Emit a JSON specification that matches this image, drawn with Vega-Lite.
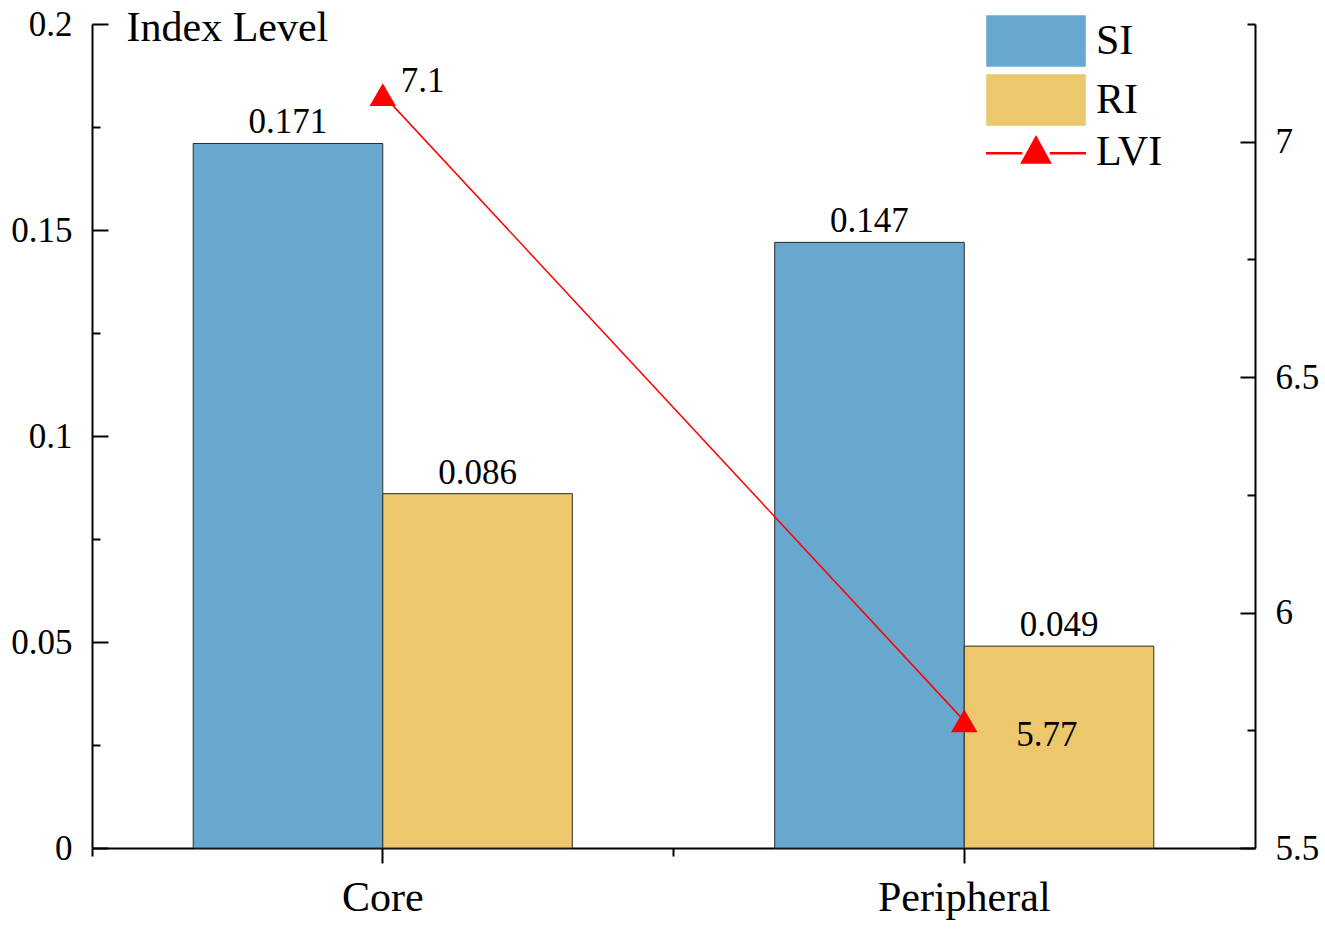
{
  "$schema": "https://vega.github.io/schema/vega-lite/v6.json",
  "width": 1163,
  "height": 824,
  "autosize": {"type": "none"},
  "padding": {"left": 92, "top": 24, "right": 70, "bottom": 81},
  "background": "white",
  "config": {
    "view": {"stroke": null},
    "font": "Liberation Serif",
    "axis": {
      "labelFont": "Liberation Serif",
      "labelColor": "black",
      "domainColor": "black",
      "tickColor": "black",
      "domainWidth": 2,
      "tickWidth": 2,
      "grid": false,
      "titleFont": "Liberation Serif",
      "titleColor": "black",
      "titleFontWeight": "normal"
    },
    "text": {"font": "Liberation Serif", "fontSize": 35, "color": "black"}
  },
  "datasets": {
    "index": [
      {"region": "Core", "series": "SI", "value": 0.171},
      {"region": "Core", "series": "RI", "value": 0.086},
      {"region": "Peripheral", "series": "SI", "value": 0.147},
      {"region": "Peripheral", "series": "RI", "value": 0.049}
    ],
    "lvi": [
      {"region": "Core", "series": "LVI", "value": 7.1},
      {"region": "Peripheral", "series": "LVI", "value": 5.77}
    ]
  },
  "layer": [
    {
      "data": {"name": "index"},
      "layer": [
        {
          "mark": {"type": "bar", "stroke": "#2a2a2a", "strokeWidth": 1, "opacity": 1},
          "encoding": {
            "x": {
              "field": "region",
              "type": "nominal",
              "sort": null,
              "scale": {"domain": ["Core", "Peripheral"], "paddingInner": 0, "paddingOuter": 0},
              "axis": {
                "orient": "bottom",
                "bandPosition": 0.5,
                "tickSize": 15,
                "labelPadding": 14,
                "labelFontSize": 42,
                "labelAngle": 0,
                "title": null
              }
            },
            "xOffset": {
              "field": "series",
              "type": "nominal",
              "sort": ["SI", "RI"],
              "scale": {"paddingInner": 0, "paddingOuter": 0.534}
            },
            "y": {
              "field": "value",
              "type": "quantitative",
              "scale": {"domain": [0, 0.2], "nice": false},
              "axis": {
                "orient": "left",
                "values": [0, 0.025, 0.05, 0.075, 0.1, 0.125, 0.15, 0.175, 0.2],
                "format": "~g",
                "labelExpr": "round(datum.value*1000) % 50 === 0 ? datum.label : ''",
                "tickSize": {"condition": {"test": "round(datum.value*1000) % 50 === 0", "value": -16}, "value": -8},
                "labelPadding": 36,
                "labelFontSize": 35,
                "title": "Index Level",
                "titleFontSize": 42,
                "titleAngle": 0,
                "titleAlign": "left",
                "titleBaseline": "middle",
                "titleX": 34,
                "titleY": 3
              }
            },
            "color": {
              "field": "series",
              "type": "nominal",
              "scale": {"domain": ["SI", "RI", "LVI"], "range": ["#68A8CE", "#ECC76C", "#FF0000"]},
              "legend": {
                "title": null,
                "orient": "none",
                "legendX": 923,
                "legendY": -4,
                "padding": 0,
                "symbolType": "M-1.96,-1H1.96V1H-1.96Z",
                "symbolSize": 2500,
                "symbolStrokeWidth": 1.5,
                "symbolStrokeColor": "#2a2a2a",
                "symbolOpacity": 1,
                "labelFont": "Liberation Serif",
                "labelFontSize": 42,
                "labelColor": "black",
                "labelOffset": 39,
                "rowPadding": 3,
                "encode": {
                  "symbols": {
                    "update": {
                      "shape": {"signal": "datum.value === 'LVI' ? 'M-2,0.05H-0.55M0.55,0.05H2M-0.55,0.42L0,-0.58L0.55,0.42Z' : 'M-1.96,-1H1.96V1H-1.96Z'"},
                      "fill": {"scale": "color", "field": "value"},
                      "stroke": {"signal": "datum.value === 'LVI' ? '#ff0000' : '#2a2a2a'"},
                      "strokeWidth": {"signal": "datum.value === 'LVI' ? 2.5 : 1.5"},
                      "opacity": {"value": 1}
                    }
                  }
                }
              }
            }
          }
        },
        {
          "mark": {"type": "text", "baseline": "alphabetic", "dy": -10, "fontSize": 35},
          "encoding": {
            "x": {"field": "region", "type": "nominal", "sort": null},
            "xOffset": {"field": "series", "type": "nominal", "sort": ["SI", "RI"]},
            "y": {"field": "value", "type": "quantitative"},
            "text": {"field": "value", "type": "quantitative", "format": ".3f"}
          }
        }
      ]
    },
    {
      "data": {"name": "lvi"},
      "layer": [
        {
          "mark": {"type": "line", "strokeWidth": 1.5},
          "encoding": {
            "x": {
              "field": "region",
              "type": "nominal",
              "sort": null,
              "axis": {
                "orient": "bottom",
                "bandPosition": 0,
                "tickSize": 8,
                "labels": false,
                "domain": false,
                "title": null
              }
            },
            "y": {
              "field": "value",
              "type": "quantitative",
              "scale": {"domain": [5.5, 7.25], "nice": false, "zero": false},
              "axis": {
                "orient": "right",
                "values": [5.5, 5.75, 6, 6.25, 6.5, 6.75, 7, 7.25],
                "format": "~g",
                "labelExpr": "round(datum.value*100) % 50 === 0 ? datum.label : ''",
                "tickSize": {"condition": {"test": "round(datum.value*100) % 50 === 0", "value": -15}, "value": -8},
                "labelPadding": 35,
                "labelFontSize": 35,
                "title": null
              }
            },
            "color": {"field": "series", "type": "nominal"}
          }
        },
        {
          "mark": {"type": "point", "shape": "triangle-up", "filled": true, "size": 700, "opacity": 1},
          "encoding": {
            "x": {"field": "region", "type": "nominal", "sort": null},
            "y": {"field": "value", "type": "quantitative"},
            "color": {"field": "series", "type": "nominal"}
          }
        },
        {
          "transform": [{"filter": "datum.region === 'Core'"}],
          "mark": {"type": "text", "align": "left", "baseline": "middle", "dx": 18, "dy": -14, "fontSize": 35},
          "encoding": {
            "x": {"field": "region", "type": "nominal", "sort": null},
            "y": {"field": "value", "type": "quantitative"},
            "text": {"field": "value", "type": "quantitative", "format": "~g"}
          }
        },
        {
          "transform": [{"filter": "datum.region === 'Peripheral'"}],
          "mark": {"type": "text", "align": "left", "baseline": "middle", "dx": 52, "dy": 14, "fontSize": 35},
          "encoding": {
            "x": {"field": "region", "type": "nominal", "sort": null},
            "y": {"field": "value", "type": "quantitative"},
            "text": {"field": "value", "type": "quantitative", "format": "~g"}
          }
        }
      ]
    }
  ],
  "resolve": {"scale": {"y": "independent"}, "axis": {"x": "independent"}}
}
